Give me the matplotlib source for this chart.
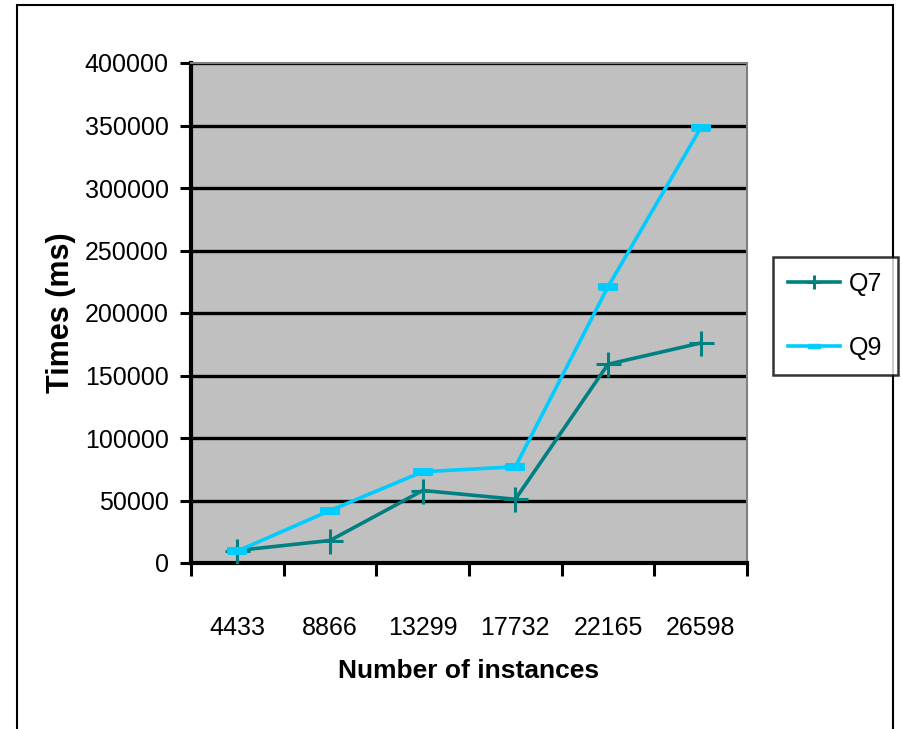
import matplotlib
matplotlib.use("Agg")
import matplotlib.pyplot as plt
from matplotlib.patches import Rectangle
from matplotlib.lines import Line2D

plt.rcParams['font.family'] = ['Liberation Sans', 'DejaVu Sans']

categories = ["4433", "8866", "13299", "17732", "22165", "26598"]
q7_times = [10000, 18000, 58000, 51000, 159000, 176000]
q9_times = [9500, 42000, 73000, 77000, 221000, 348000]
y_ticks = [0, 50000, 100000, 150000, 200000, 250000, 300000, 350000, 400000]

teal = "#008080"
cyan = "#00CCFF"
bar_marker = [(-1, -0.38), (1, -0.38), (1, 0.38), (-1, 0.38), (-1, -0.38)]

fig = plt.figure(figsize=(9.03, 7.29), dpi=100)
fig.patch.set_facecolor("white")

# outer chart frame
fig.add_artist(Rectangle((17 / 903, -0.05), (893 - 17) / 903, 1.05 - 5 / 729,
                         transform=fig.transFigure, fill=False,
                         edgecolor="black", linewidth=1.5))

ax = fig.add_axes([191 / 903, 1 - 563 / 729, (747 - 191) / 903, (563 - 63) / 729])
ax.set_facecolor("#C0C0C0")

x = list(range(len(categories)))
ax.plot(x, q7_times, color=teal, linewidth=2.6, marker="+", markersize=18,
        markeredgewidth=2.2, label="Q7", zorder=3)
ax.plot(x, q9_times, color=cyan, linewidth=2.6, marker=bar_marker, markersize=13,
        markeredgewidth=1.5, markerfacecolor=cyan, markeredgecolor=cyan,
        label="Q9", zorder=4)

ax.set_xlim(-0.5, len(categories) - 0.5)
ax.set_ylim(0, 400000)
ax.set_yticks(y_ticks)
ax.set_yticklabels([str(v) for v in y_ticks], fontsize=18)
ax.yaxis.grid(True, color="black", linewidth=2.4)
ax.set_axisbelow(True)

# category boundary ticks, labels at category centres
ax.set_xticks([i - 0.5 for i in range(len(categories) + 1)])
ax.set_xticklabels([])
ax.set_xticks(x, minor=True)
ax.set_xticklabels(categories, minor=True, fontsize=18)
ax.tick_params(axis="x", which="minor", length=0, pad=38)
ax.tick_params(axis="x", which="major", length=9, width=2.2, direction="out")
ax.tick_params(axis="y", length=8, width=2.2, direction="out", pad=8)

for side in ("left", "bottom"):
    ax.spines[side].set_linewidth(3)
    ax.spines[side].set_color("black")
for side in ("top", "right"):
    ax.spines[side].set_linewidth(1.5)
    ax.spines[side].set_color("#808080")

ax.set_ylabel("Times (ms)", fontsize=22, fontweight="bold", labelpad=6)
ax.set_xlabel("Number of instances", fontsize=19, fontweight="bold", labelpad=14)

handles = [
    Line2D([], [], color=teal, linewidth=2.6, marker="+", markersize=10, markeredgewidth=2.2),
    Line2D([], [], color=cyan, linewidth=2.6, marker=bar_marker, markersize=8,
           markerfacecolor=cyan, markeredgecolor=cyan),
]
leg = fig.legend(handles, ["Q7", "Q9"], loc="upper left",
                 bbox_to_anchor=(773 / 903, 1 - 257 / 729), fontsize=18,
                 frameon=True, fancybox=False, edgecolor="black",
                 handlelength=2.1, labelspacing=1.6, borderpad=0.6,
                 handletextpad=0.35, borderaxespad=0)
leg.get_frame().set_linewidth(1.8)

fig.savefig("out.png", dpi=100, facecolor="white")
